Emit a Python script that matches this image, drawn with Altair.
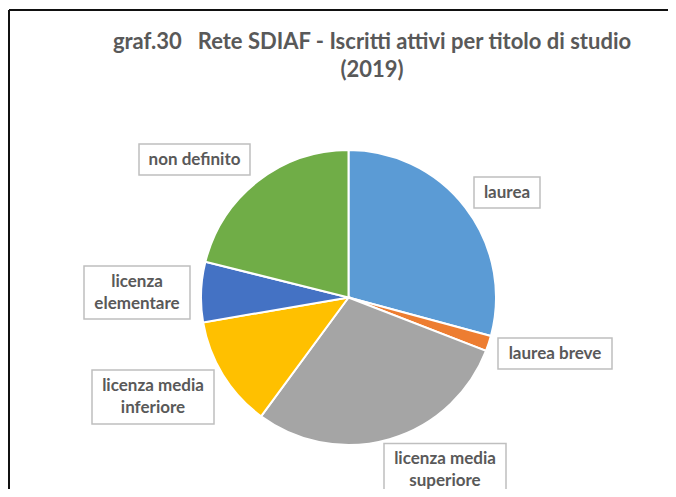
import altair as alt
import pandas as pd

# --- data ---
categories = ["laurea", "laurea breve", "licenza media superiore",
              "licenza media inferiore", "licenza elementare", "non definito"]
values = [29.2, 1.7, 29.2, 12.2, 6.6, 21.1]
colors = ["#5B9BD5", "#ED7D31", "#A5A5A5", "#FFC000", "#4472C4", "#70AD47"]
title_lines = ["graf.30\u00a0\u00a0 Rete SDIAF - Iscritti attivi per titolo di studio", "(2019)"]
label_lines = ["laurea", "laurea breve", "licenza media\nsuperiore",
               "licenza media\ninferiore", "licenza\nelementare", "non definito"]

# --- layout (annotation placement, chart pixel coords) ---
label_cx = [499, 547, 437, 145, 129, 186.5]
label_cy = [184.5, 345.5, 462, 389, 284.5, 151.5]
label_w = [66, 114, 122, 122, 106, 111]
label_h = [31, 31, 53, 54, 53, 31]
LINE_H = 22

W, H = 660, 481
CX, CY, R = 340.5, 289.5, 147.5
FONT = "Lato"
TXT = "#595959"

pie_df = pd.DataFrame({"category": categories, "value": values,
                       "order": list(range(len(categories)))})

pie = alt.Chart(pie_df).mark_arc(radius=R, stroke="white", strokeWidth=2).encode(
    theta=alt.Theta("value:Q", stack=True),
    color=alt.Color("category:N", scale=alt.Scale(domain=categories, range=colors), legend=None),
    order=alt.Order("order:Q"),
    x=alt.value(CX),
    y=alt.value(CY),
)

nlines = [t.count("\n") + 1 for t in label_lines]
lab_df = pd.DataFrame({
    "text": label_lines,
    "cx": label_cx,
    "ty": [c - (n - 1) * LINE_H / 2 for c, n in zip(label_cy, nlines)],
    "x1": [c - w / 2 for c, w in zip(label_cx, label_w)],
    "x2": [c + w / 2 for c, w in zip(label_cx, label_w)],
    "y1": [c - h / 2 for c, h in zip(label_cy, label_h)],
    "y2": [c + h / 2 for c, h in zip(label_cy, label_h)],
})

boxes = alt.Chart(lab_df).mark_rect(fill="white", stroke="#BFBFBF", strokeWidth=1.5).encode(
    x=alt.X("x1:Q", scale=None), x2="x2:Q",
    y=alt.Y("y1:Q", scale=None), y2="y2:Q",
)
texts = alt.Chart(lab_df).mark_text(
    font=FONT, fontSize=17, fontWeight="bold", color=TXT,
    lineBreak="\n", lineHeight=LINE_H, baseline="middle", align="center"
).encode(
    x=alt.X("cx:Q", scale=None), y=alt.Y("ty:Q", scale=None), text="text:N"
)

title_df = pd.DataFrame({"text": title_lines, "ty": [34, 62]})
title = alt.Chart(title_df).mark_text(
    font=FONT, fontSize=22, fontWeight="bold", color=TXT, baseline="middle", align="center"
).encode(x=alt.value(372 - 8), y=alt.Y("ty:Q", scale=None), text="text:N")

frame_top = alt.Chart(pie_df).mark_rule(color="#111111", strokeWidth=2).encode(
    x=alt.value(1), x2=alt.value(W), y=alt.value(2))
frame_left = alt.Chart(pie_df).mark_rule(color="#111111", strokeWidth=2).encode(
    x=alt.value(1), y=alt.value(2), y2=alt.value(H))

chart = alt.layer(frame_top, frame_left, pie, boxes, texts, title).properties(
    width=W, height=H, padding=0, autosize="none", background="white"
).configure_view(stroke=None)

chart.save("out.html", embed_options={"renderer": "svg", "actions": False})
